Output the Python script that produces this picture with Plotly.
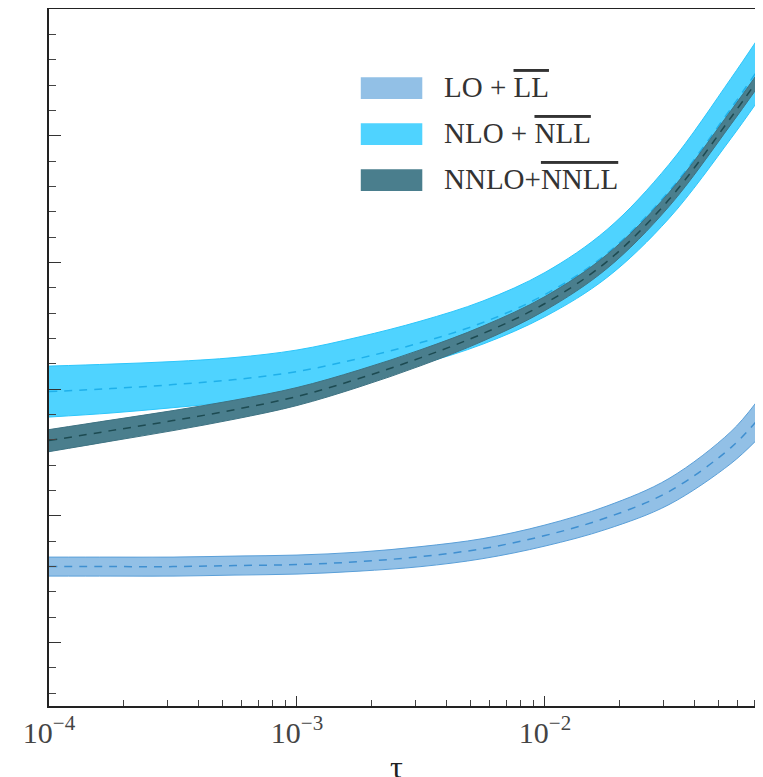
import plotly.graph_objects as go

tau = [1e-4, 1.778e-4, 3.162e-4, 5.623e-4, 1e-3, 1.778e-3, 3.162e-3,
       5.623e-3, 1e-2, 1.778e-2, 3.162e-2, 5.623e-2, 7.1e-2]

lo_mid = [1.600, 1.600, 1.600, 1.608, 1.616, 1.639, 1.679, 1.742, 1.845, 1.987, 2.192, 2.539, 2.744]
lo_hi = [1.675, 1.675, 1.675, 1.683, 1.691, 1.714, 1.758, 1.821, 1.928, 2.078, 2.295, 2.665, 2.894]
lo_lo = [1.525, 1.525, 1.525, 1.533, 1.541, 1.564, 1.600, 1.663, 1.762, 1.896, 2.089, 2.413, 2.594]

nlo_mid = [2.981, 3.005, 3.036, 3.076, 3.139, 3.242, 3.368, 3.526, 3.747, 4.070, 4.560, 5.215, 5.499]
nlo_hi = [3.182, 3.198, 3.218, 3.250, 3.309, 3.412, 3.538, 3.696, 3.921, 4.259, 4.773, 5.452, 5.744]
nlo_lo = [2.780, 2.812, 2.854, 2.902, 2.969, 3.072, 3.198, 3.356, 3.573, 3.881, 4.347, 4.978, 5.254]

nnlo_mid = [2.594, 2.673, 2.752, 2.839, 2.942, 3.084, 3.249, 3.439, 3.676, 4.007, 4.496, 5.144, 5.420]
nnlo_hi = [2.681, 2.756, 2.831, 2.914, 3.013, 3.151, 3.312, 3.498, 3.731, 4.062, 4.551, 5.199, 5.475]
nnlo_lo = [2.507, 2.590, 2.673, 2.764, 2.871, 3.017, 3.186, 3.380, 3.621, 3.952, 4.441, 5.089, 5.365]

labels = ["LO + <span style='text-decoration:overline'>LL</span>",
          "NLO + <span style='text-decoration:overline'>NLL</span>",
          "NNLO+<span style='text-decoration:overline'>NNLL</span>"]

x_title = "τ"

series = [
    (lo_lo, lo_hi, lo_mid, "#92c0e6", "#5a9fd8", "#3f8fd0"),
    (nlo_lo, nlo_hi, nlo_mid, "#4fd3ff", "#2cc6fb", "#1fb0ea"),
    (nnlo_lo, nnlo_hi, nnlo_mid, "#4a7e8d", "#3f7383", "#1d4b52"),
]

fig = go.Figure()
for lo, hi, mid, fillc, edgec, midc in series:
    fig.add_trace(go.Scatter(x=tau, y=lo, mode="lines",
                             line=dict(color=edgec, width=1, shape="spline", smoothing=1.0),
                             showlegend=False, hoverinfo="skip"))
    fig.add_trace(go.Scatter(x=tau, y=hi, mode="lines", fill="tonexty", fillcolor=fillc,
                             line=dict(color=edgec, width=1, shape="spline", smoothing=1.0),
                             showlegend=False, hoverinfo="skip"))
    fig.add_trace(go.Scatter(x=tau, y=mid, mode="lines",
                             line=dict(color=midc, width=1.5, dash="8px,7px", shape="spline", smoothing=1.0),
                             showlegend=False, hoverinfo="skip"))

# manual legend
rows_y = [(0.871, 0.902), (0.805, 0.836), (0.739, 0.770)]
for (y0, y1), (_, _, _, fillc, _, _), lab in zip(rows_y, series, labels):
    fig.add_shape(type="rect", xref="paper", yref="paper", x0=0.441, x1=0.528, y0=y0, y1=y1,
                  fillcolor=fillc, line=dict(width=0), layer="above")
    fig.add_annotation(xref="paper", yref="paper", x=0.556, y=(y0 + y1) / 2 + 0.002, text=lab,
                       showarrow=False, xanchor="left", yanchor="middle",
                       font=dict(family="Liberation Serif", size=29, color="#333333"))

# x-axis title, placed low like the reference (partly cut at the window edge)
fig.add_annotation(xref="paper", yref="paper", x=0.491, y=-0.088, text=x_title,
                   showarrow=False, xanchor="center", yanchor="middle",
                   font=dict(family="Liberation Serif", size=32, color="#222222"))

# the page body has an 8px default margin, so the figure is sized to fit the window
fig.update_layout(
    width=755, height=769,
    margin=dict(l=41, r=7, t=1, b=71),
    plot_bgcolor="white", paper_bgcolor="white",
    font=dict(family="Liberation Serif", color="#333333"),
    xaxis=dict(type="log", range=[-4, -1.149], dtick=1, exponentformat="power", automargin=False,
               showgrid=False, zeroline=False, showline=True, linecolor="#222222", linewidth=2,
               mirror=True, ticks="inside", ticklen=10, tickwidth=1.2, tickcolor="#333333",
               tickfont=dict(family="Liberation Serif", size=24, color="#444444"),
               minor=dict(ticks="inside", ticklen=6, dtick="D1", tickcolor="#444444", showgrid=False)),
    yaxis=dict(range=[0.5, 6.0], dtick=1, tick0=0, showticklabels=False, automargin=False,
               showgrid=False, zeroline=False, showline=True, linecolor="#222222", linewidth=2,
               mirror=True, ticks="inside", ticklen=12, tickwidth=1.2, tickcolor="#333333",
               minor=dict(ticks="inside", ticklen=7, dtick=0.2, tickcolor="#444444", showgrid=False)),
)

fig.write_html("out.html")
